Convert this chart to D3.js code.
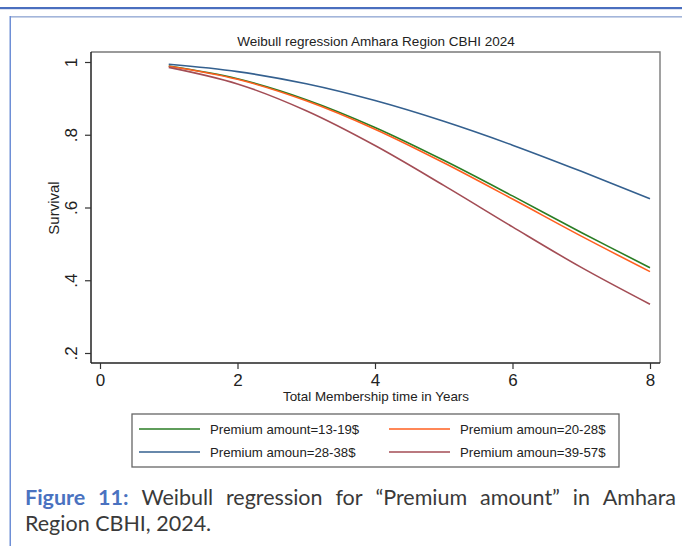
<!DOCTYPE html>
<html>
<head>
<meta charset="utf-8">
<script src="https://cdn.jsdelivr.net/npm/d3@7"></script>
<style>
  html, body { margin: 0; padding: 0; background: #fff; }
  svg { display: block; }
</style>
</head>
<body>
<svg id="fig" width="682" height="546"></svg>
<script>
// Survival estimates by premium group, read at yearly steps (years 1..8)
const years = [1, 2, 3, 4, 5, 6, 7, 8];
const survPremium13to19 = [0.9888, 0.9538, 0.8964, 0.8201, 0.7298, 0.6319, 0.5314, 0.4345];
const survPremium20to28 = [0.9885, 0.9525, 0.8933, 0.8152, 0.7229, 0.6232, 0.5213, 0.4237];
const survPremium28to38 = [0.9937, 0.9736, 0.9401, 0.8939, 0.8369, 0.7714, 0.6995, 0.6242];
const survPremium39to57 = [0.9853, 0.9397, 0.8660, 0.7704, 0.6608, 0.5467, 0.4353, 0.3340];

const seriesNames = [
  "Premium amount=13-19$",
  "Premium amoun=20-28$",
  "Premium amoun=28-38$",
  "Premium amoun=39-57$"
];
const seriesColors = ["#2a7d24", "#ff5f1f", "#34608f", "#a34d55"];
const xTicks = [0, 2, 4, 6, 8];
const yTicks = [0.2, 0.4, 0.6, 0.8, 1];
const yTickLabels = [".2", ".4", ".6", ".8", "1"];

const series = [survPremium13to19, survPremium20to28, survPremium28to38, survPremium39to57]
  .map((vals, i) => ({ name: seriesNames[i], color: seriesColors[i],
                       pts: years.map((t, j) => [t, vals[j]]) }));

const svg = d3.select("#fig");

// page frame (journal layout rules)
svg.append("rect").attr("x", 0).attr("y", 7).attr("width", 682).attr("height", 2.2).attr("fill", "#4a6fbf");
svg.append("rect").attr("x", 10).attr("y", 16).attr("width", 672).attr("height", 1.6).attr("fill", "#a3b5da");
svg.append("rect").attr("x", 9.5).attr("y", 16).attr("width", 1.5).attr("height", 530).attr("fill", "#6e8fd6");

// plot region
const frame = { left: 91, right: 660, top: 52, bottom: 363 };
const x = d3.scaleLinear().domain([0, 8]).range([100, 650]);
const y = d3.scaleLinear().domain([0.2, 1]).range([353, 62]);

const FONT = "'Liberation Sans', Arial, sans-serif";

// title
svg.append("text").attr("x", 376).attr("y", 46).attr("text-anchor", "middle")
  .style("font-family", FONT).style("font-size", "13.5px").attr("fill", "#222")
  .text("Weibull regression Amhara Region CBHI 2024");

// top and right outline
svg.append("path")
  .attr("d", `M${frame.left},${frame.top}H${frame.right}V${frame.bottom}`)
  .attr("fill", "none").attr("stroke", "#7a7a7a").attr("stroke-width", 1.4);

// y axis
const yAxis = d3.axisLeft(y).tickValues(yTicks).tickSize(6).tickPadding(4)
  .tickFormat((d, i) => yTickLabels[i]);
const gy = svg.append("g").attr("transform", `translate(${frame.left},0)`).call(yAxis);
gy.select(".domain").attr("d", `M0,${frame.top}V${frame.bottom}`).attr("stroke", "#222").attr("stroke-width", 1.5);
gy.selectAll(".tick line").attr("stroke", "#333").attr("stroke-width", 1.2);
gy.selectAll(".tick text")
  .style("font-family", FONT).style("font-size", "17px").attr("fill", "#222")
  .attr("text-anchor", "middle").attr("x", 0).attr("dy", 0)
  .attr("transform", "translate(-14,0) rotate(-90)");

// x axis
const xAxis = d3.axisBottom(x).tickValues(xTicks).tickSize(6).tickPadding(5);
const gx = svg.append("g").attr("transform", `translate(0,${frame.bottom})`).call(xAxis);
gx.select(".domain").attr("d", `M${frame.left},0H${frame.right}`).attr("stroke", "#222").attr("stroke-width", 1.5);
gx.selectAll(".tick line").attr("stroke", "#333").attr("stroke-width", 1.2);
gx.selectAll(".tick text").style("font-family", FONT).style("font-size", "17px").attr("fill", "#222");

// axis titles
svg.append("text").attr("x", 376).attr("y", 401).attr("text-anchor", "middle")
  .style("font-family", FONT).style("font-size", "13.4px").attr("fill", "#222")
  .text("Total Membership time in Years");
svg.append("text").attr("transform", "translate(59,208) rotate(-90)").attr("text-anchor", "middle")
  .style("font-family", FONT).style("font-size", "15px").attr("fill", "#222")
  .text("Survival");

// survival curves
const line = d3.line().x(d => x(d[0])).y(d => y(d[1])).curve(d3.curveCatmullRom.alpha(0.5));
svg.append("g").selectAll("path").data(series).join("path")
  .attr("d", d => line(d.pts))
  .attr("fill", "none").attr("stroke", d => d.color).attr("stroke-width", 1.6);

// legend
const lg = svg.append("g");
lg.append("rect").attr("x", 132).attr("y", 414).attr("width", 487).attr("height", 53)
  .attr("fill", "#fff").attr("stroke", "#666").attr("stroke-width", 1.3);
const legendPos = [[139, 429], [389, 429], [139, 452], [389, 452]];
legendPos.forEach(([lx, ly], si) => {
  lg.append("line").attr("x1", lx).attr("x2", lx + 61).attr("y1", ly).attr("y2", ly)
    .attr("stroke", series[si].color).attr("stroke-width", 1.6);
  lg.append("text").attr("x", lx + 71).attr("y", ly + 4.5)
    .style("font-family", FONT).style("font-size", "13.2px").attr("fill", "#222")
    .text(series[si].name);
});

// caption, justified on the first line
const CAP = "Lato, 'Open Sans', sans-serif";
const capSize = "21.5px";
const line1 = [["Figure", true], ["11:", true], ["Weibull", false], ["regression", false], ["for", false],
               ["\u201CPremium", false], ["amount\u201D", false], ["in", false], ["Amhara", false]];
const capLeft = 25, capRight = 676;
const words = line1.map(([w, bold]) => {
  const t = svg.append("text").attr("y", 505).style("font-family", CAP).style("font-size", capSize)
    .style("font-weight", bold ? 700 : 400).attr("fill", bold ? "#4a72c0" : "#3a3a3a").text(w);
  return { t, w: t.node().getComputedTextLength() };
});
const total = d3.sum(words, d => d.w);
const gap = (capRight - capLeft - total) / (words.length - 1);
let cx = capLeft;
words.forEach(d => { d.t.attr("x", cx); cx += d.w + gap; });
svg.append("text").attr("x", capLeft).attr("y", 531).style("font-family", CAP).style("font-size", capSize)
  .attr("fill", "#3a3a3a").text("Region CBHI, 2024.");
</script>
</body>
</html>
